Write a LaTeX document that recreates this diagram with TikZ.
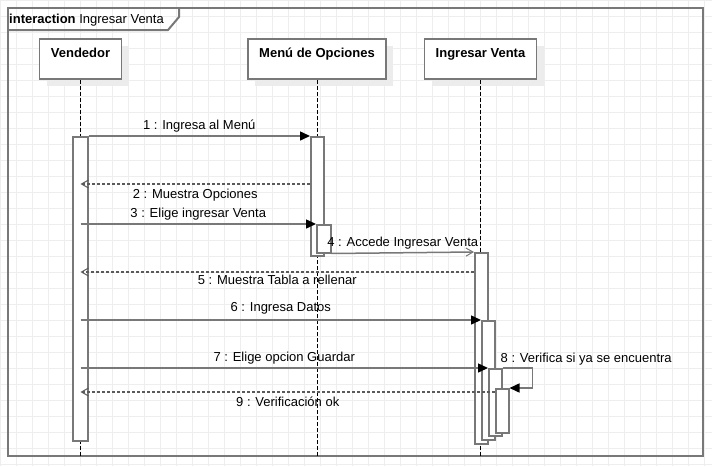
\documentclass[tikz,border=0pt]{standalone}
\usepackage{fontspec}
\setmainfont{Liberation Sans}
\usetikzlibrary{arrows.meta,shadows}
\definecolor{linegray}{RGB}{120,120,120}
\definecolor{dashgray}{RGB}{90,90,90}
\definecolor{gridgray}{RGB}{238,238,238}
\definecolor{shadowgray}{RGB}{236,236,236}
\begin{document}
\begin{tikzpicture}
[x=1pt,y=-1pt,
  every node/.style={font=\fontsize{13pt}{15pt}\selectfont},
  griddecorate/.style={draw=gridgray,line width=1pt,step=16pt},
  framedecorate/.style={draw=linegray,line width=2pt},
  headdecorate/.style={shape=rectangle,draw=linegray,line width=1.5pt,fill=white,
    font=\fontsize{13pt}{15pt}\selectfont\bfseries,
    text height=18pt,text depth=22pt,inner ysep=0pt,
    drop shadow={shadow xshift=7pt,shadow yshift=-7pt,fill=shadowgray,opacity=1}},
  lifedecorate/.style={draw=black,line width=1pt,dash pattern=on 4pt off 2pt},
  actdecorate/.style={shape=rectangle,draw=linegray,line width=1.5pt,fill=white,
    inner sep=0pt,anchor=north west},
  calldecorate/.style={draw=linegray,line width=1.5pt,
    -{Triangle[length=10pt,width=9pt,color=black]}},
  asyncdecorate/.style={draw=linegray,line width=1.5pt,
    -{Straight Barb[length=7pt,width=8pt,line width=1pt]}},
  returndecorate/.style={draw=dashgray,line width=1.2pt,dash pattern=on 3pt off 2pt,
    -{Straight Barb[length=7pt,width=8pt,line width=1pt]}},
  lbldecorate/.style={inner sep=1pt,text height=9.5pt,text depth=2.7pt}]
%% background grid and frame
\useasboundingbox[fill=white] (0,0) rectangle (712,466);
\draw[griddecorate] (0,466) grid (712,0);
\node (frame) at (7,7) [framedecorate,anchor=north west,inner sep=0pt,
  minimum width=695pt,minimum height=448pt] {};
\draw[framedecorate] (7,30) -- (168,30) -- (179,17) -- (179,7);
\node (title) at (9,23) [anchor=base west,inner sep=0pt] {\textbf{interaction} Ingresar Venta};
%% heads and lifelines
\foreach \nodename/\x/\w/\txt in {vend/80.5/82/Vendedor, menu/317/138/{Menú de Opciones}, ing/480.5/112/{Ingresar Venta}} {
  \node (\nodename) at (\x,59) [headdecorate,minimum width=\w pt] {\txt};
  \draw[lifedecorate] (\nodename.south) -- (\nodename.south |- frame.south);
}
%% activations
\foreach \nodename/\x/\y/\w/\h in {vendact/72/136/15/304, menuact/310/136/13/119, menuact2/316/224/14/28,
  ingact/474/252/13/191, ingact2/481/320/13/119, ingact3/488/368/13/67, ingact4/495/388/13/44} {
  \node (\nodename) at (\x,\y) [actdecorate,minimum width=\w pt,minimum height=\h pt] {};
}
%% rows of the replies
\coordinate (row2) at (0,184);
\coordinate (row5) at (0,272);
\coordinate (row9) at (0,392);
%% messages
\draw[calldecorate] (vendact.north east) -- node[lbldecorate,above=2pt] (lbl1) {1 : Ingresa al Menú} (menuact.north west);
\draw[returndecorate] (menuact.west |- row2) -- node[lbldecorate,below=3pt] (lbl2) {2 : Muestra Opciones} (vend.south |- row2);
\draw[calldecorate] (vend.south |- menuact2.north west) -- node[lbldecorate,above=2pt] (lbl3) {3 : Elige ingresar Venta} (menuact2.north west);
\draw[asyncdecorate] (menuact2.south east) -- node[lbldecorate,above=2pt] (lbl4) {4 : Accede Ingresar Venta} (ingact.north west);
\draw[returndecorate] (ingact.west |- row5) -- node[lbldecorate,below=1pt] (lbl5) {5 : Muestra Tabla a rellenar} (vend.south |- row5);
\draw[calldecorate] (vend.south |- ingact2.north west) -- node[lbldecorate,above=4pt] (lbl6) {6 : Ingresa Datos} (ingact2.north west);
\draw[calldecorate] (vend.south |- ingact3.north west) -- node[lbldecorate,above=2pt] (lbl7) {7 : Elige opcion Guardar} (ingact3.north west);
\draw[calldecorate] (ingact3.north east) -- ++(30,0) |- (ingact4.north east);
\node (lbl8) at (ingact3.north east) [anchor=base west,inner sep=0pt,xshift=-2pt,yshift=6pt] {8 : Verifica si ya se encuentra};
\draw[returndecorate] (ingact4.west |- row9) -- node[lbldecorate,below=3pt] (lbl9) {9 : Verificación ok} (vend.south |- row9);
\end{tikzpicture}
\end{document}
